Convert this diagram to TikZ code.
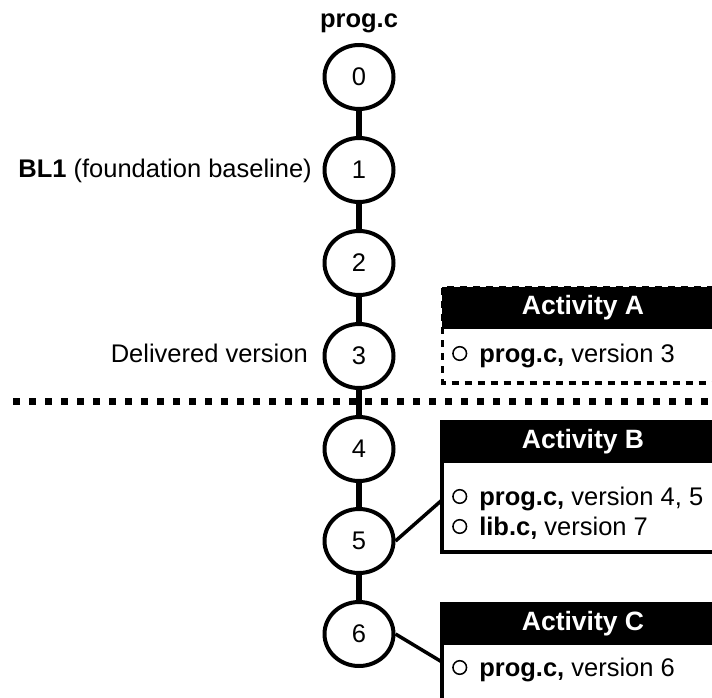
\documentclass[tikz,border=0pt]{standalone}
\usepackage{fontspec}
\setmainfont{Liberation Sans}
\usetikzlibrary{shapes.geometric}
\newcommand{\vmark}{\tikz[baseline=-8.5pt]\draw[line width=1.5pt] (0,0) circle (6.8pt);\hspace{12pt}}
\newcommand{\acthead}[4]{\fill (442,#2) rectangle (730,#3); \node[headtext] (#1) at (583,{(#2+#3)/2}) {#4};}

\begin{document}
\begin{tikzpicture}[x=1pt, y=-1pt, font=\fontsize{25.5}{30}\selectfont,
  ver/.style={draw, ellipse, line width=4pt, minimum width=69pt, minimum height=64pt, inner sep=0pt},
  headtext/.style={text=white, font=\fontsize{26.5}{30}\selectfont\bfseries, inner sep=0pt},
  row/.style={anchor=base west, inner sep=0pt}]
\useasboundingbox (0,0) rectangle (712,698);
\clip (0,0) rectangle (712,698);
% version chain
\foreach \v/\y in {0/77, 1/170, 2/263, 3/356, 4/449, 5/541, 6/634}
  \node[ver] (v\v) at (359,\y) {\v};
\foreach \a/\b in {0/1, 1/2, 2/3, 3/4, 4/5, 5/6}
  \draw[line width=6pt] (v\a) -- (v\b);
\node[anchor=base, font=\fontsize{25.5}{30}\selectfont\bfseries, inner sep=0pt] (title) at (359,28) {prog.c};
\node[anchor=base east, inner sep=0pt] (bl) at (312,177) {\textbf{BL1} (foundation baseline)};
\node[anchor=base east, inner sep=0pt] (dlv) at (308,362) {Delivered version};
% delivery line
\draw[line width=7pt, dash pattern=on 7pt off 9pt] (13,401.5) -- (712,401.5);
% activity A
\acthead{hA}{287}{329}{Activity A}
\draw[line width=3.5pt, dash pattern=on 7pt off 6pt] (442.5,288) rectangle (730,383);
\node[row] (iA) at (452,362) {\vmark\textbf{prog.c,} version 3};
% activity B
\acthead{hB}{420}{463}{Activity B}
\draw[line width=4pt] (442,422) rectangle (730,552);
\node[row] (iB1) at (452,505) {\vmark\textbf{prog.c,} version 4, 5};
\node[row] (iB2) at (452,535) {\vmark\textbf{lib.c,} version 7};
\coordinate (bB) at (442,500);
\draw[line width=3.5pt] (v5.east) -- (bB);
% activity C
\acthead{hC}{602}{645}{Activity C}
\draw[line width=4pt] (442,604) rectangle (730,710);
\node[row] (iC) at (452,676) {\vmark\textbf{prog.c,} version 6};
\coordinate (bC) at (442,662);
\draw[line width=3.5pt] (v6.east) -- (bC);
\end{tikzpicture}
\end{document}
